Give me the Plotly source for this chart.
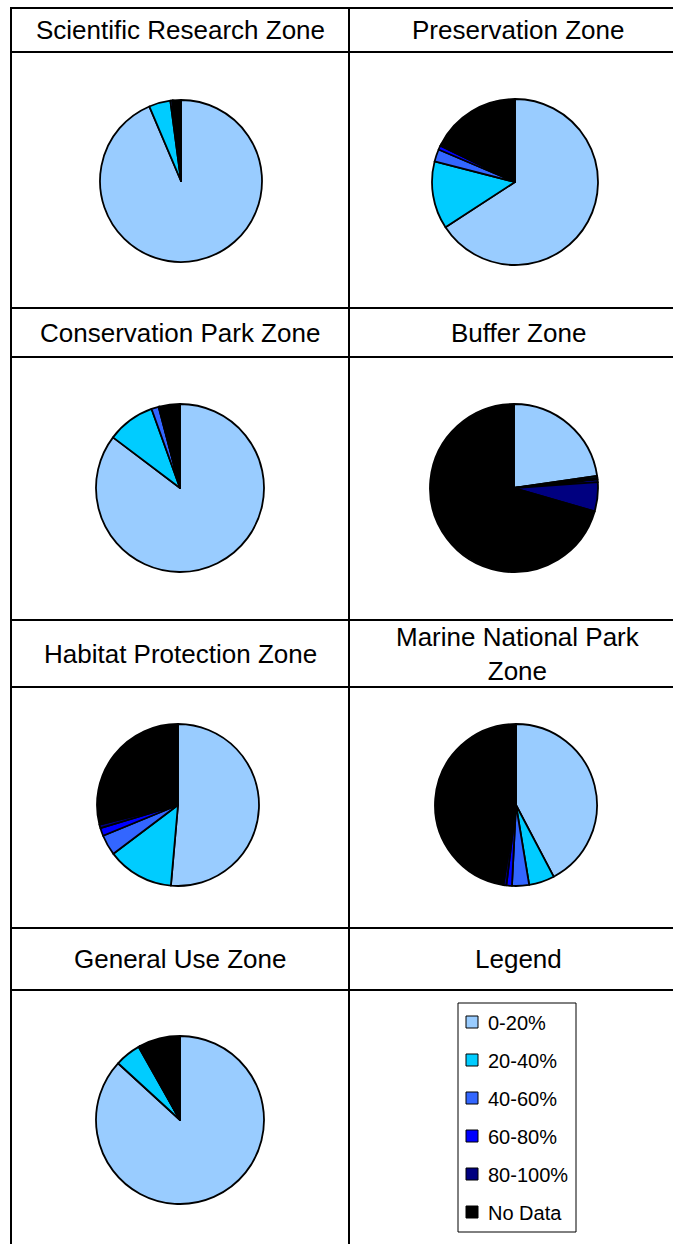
import plotly.graph_objects as go

# ---------------- data ----------------
categories = ["0-20%", "20-40%", "40-60%", "60-80%", "80-100%", "No Data"]
colors = ["#99CCFF", "#00CCFF", "#3366FF", "#0000FF", "#000080", "#000000"]

zone_titles = [
    "Scientific Research Zone",
    "Preservation Zone",
    "Conservation Park Zone",
    "Buffer Zone",
    "Habitat Protection Zone",
    "Marine National Park<br>Zone",
    "General Use Zone",
]
legend_title = "Legend"

scientific_research = [93.6, 4.3, 0.4, 0.1, 0.2, 1.4]
preservation = [65.8, 13.2, 2.4, 0.8, 0.3, 17.5]
conservation_park = [85.3, 9.2, 1.4, 0.1, 0.1, 3.9]
buffer_zone = [22.7, 0.4, 0.3, 0.5, 5.6, 70.5]
habitat_protection = [51.4, 13.3, 4.1, 1.6, 0.7, 28.9]
marine_national_park = [42.3, 5.1, 3.4, 1.1, 0.6, 47.5]
general_use = [86.8, 5.0, 0.2, 0.1, 0.1, 7.8]

zone_values = [scientific_research, preservation, conservation_park, buffer_zone,
               habitat_protection, marine_national_park, general_use]

# ---------------- layout geometry (pixels) ----------------
W, H = 673, 1244
FONT = "Arial, Liberation Sans, sans-serif"
col_left, col_mid, col_right = 11, 349, 687
row_lines = [8, 52, 308, 357, 620, 687, 928, 990]
pie_geom = [(181, 181, 81), (515, 182, 83), (180, 488, 84), (514, 488, 84),
            (178, 805, 81), (516, 805, 81), (180, 1120, 84)]


def px(x):
    return x / W


def py(y):
    return 1 - y / H


fig = go.Figure()

for vals, (cx, cy, r) in zip(zone_values, pie_geom):
    fig.add_trace(go.Pie(
        labels=categories, values=vals, sort=False, direction="clockwise",
        rotation=0, textinfo="none", hoverinfo="label+percent", showlegend=False,
        marker=dict(colors=colors, line=dict(color="black", width=1.8)),
        domain=dict(x=[px(cx - r), px(cx + r)], y=[py(cy + r), py(cy - r)]),
    ))

shapes = []
# grid lines
for y in row_lines:
    shapes.append(dict(type="line", xref="paper", yref="paper",
                       x0=px(col_left - 1), x1=px(W + 5), y0=py(y), y1=py(y),
                       line=dict(color="black", width=2)))
for x in (col_left, col_mid):
    shapes.append(dict(type="line", xref="paper", yref="paper",
                       x0=px(x), x1=px(x), y0=py(row_lines[0] - 1), y1=py(H + 5),
                       line=dict(color="black", width=2)))

annotations = []
titles = zone_titles + [legend_title]
header_rows = [(row_lines[0], row_lines[1]), (row_lines[2], row_lines[3]),
               (row_lines[4], row_lines[5]), (row_lines[6], row_lines[7])]
col_centers = [(col_left + col_mid) / 2, (col_mid + col_right) / 2]
for i, t in enumerate(titles):
    r0, r1 = header_rows[i // 2]
    annotations.append(dict(text=t, xref="paper", yref="paper",
                            x=px(col_centers[i % 2]), y=py((r0 + r1) / 2),
                            xanchor="center", yanchor="middle", showarrow=False,
                            font=dict(family=FONT, size=26, color="black")))

# legend box
lx0, lx1, ly0, ly1 = 458, 576, 1003, 1232
shapes.append(dict(type="rect", xref="paper", yref="paper",
                   x0=px(lx0), x1=px(lx1), y0=py(ly1), y1=py(ly0),
                   line=dict(color="black", width=1), fillcolor="white"))
item_y0, item_dy = 1022, 38
for k, (lab, c) in enumerate(zip(categories, colors)):
    yc = item_y0 + k * item_dy
    shapes.append(dict(type="rect", xref="paper", yref="paper",
                       x0=px(466), x1=px(478), y0=py(yc + 6), y1=py(yc - 6),
                       line=dict(color="black", width=1), fillcolor=c))
    annotations.append(dict(text=lab, xref="paper", yref="paper",
                            x=px(486), y=py(yc + 1), xanchor="left", yanchor="middle",
                            showarrow=False,
                            font=dict(family=FONT, size=20, color="black")))

fig.update_layout(
    width=W, height=H, autosize=False,
    margin=dict(l=0, r=0, t=0, b=0, pad=0),
    paper_bgcolor="white", plot_bgcolor="white",
    shapes=shapes, annotations=annotations, showlegend=False,
    font=dict(family=FONT, color="black"),
)

fig.write_html("out.html", include_plotlyjs=True, config={"displayModeBar": False},
               post_script="document.body.style.margin='0';document.body.style.overflow='hidden';")
